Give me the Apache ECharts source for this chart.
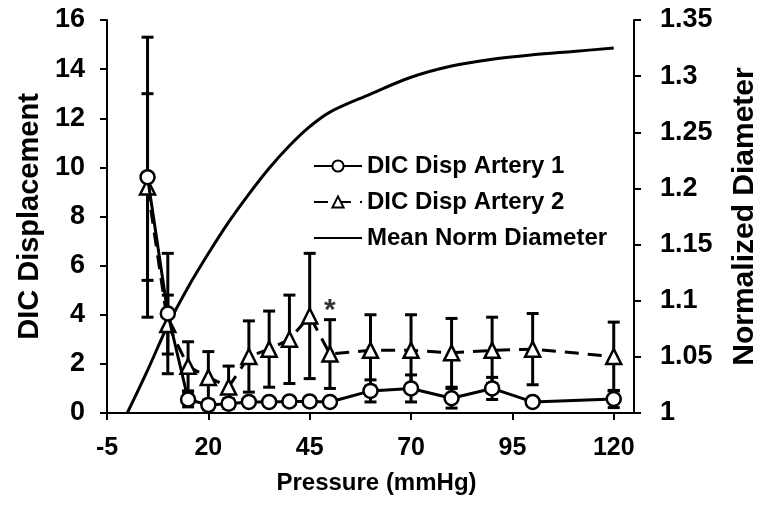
<!DOCTYPE html>
<html>
<head>
<meta charset="utf-8">
<script src="https://cdn.jsdelivr.net/npm/echarts@6/dist/echarts.min.js"></script>
<style>
html,body{margin:0;padding:0;background:#fff;}
#chart{width:758px;height:506px;}
</style>
</head>
<body>
<div id="chart"></div>
<script>
// ---- data ----
const pressure = [5, 10, 15, 20, 25, 30, 35, 40, 45, 50, 60, 70, 80, 90, 100, 120];
const artery1 = [9.6, 4.05, 0.55, 0.33, 0.38, 0.45, 0.45, 0.47, 0.47, 0.45, 0.9, 1.0, 0.6, 1.0, 0.45, 0.57];
const artery1Err = [5.7, 2.45, 0.3, 0.2, 0.2, 0.15, 0.15, 0.15, 0.15, 0.15, 0.45, 0.55, 0.4, 0.45, 0.1, 0.35];
const artery2 = [9.2, 3.6, 1.9, 1.45, 1.06, 2.3, 2.6, 3.0, 3.95, 2.4, 2.55, 2.55, 2.45, 2.55, 2.6, 2.3];
const artery2Err = [3.8, 1.2, 1.0, 1.05, 0.85, 1.45, 1.55, 1.8, 2.55, 1.4, 1.45, 1.45, 1.4, 1.35, 1.45, 1.4];
const diamPressure = [0, 5, 10, 15, 20, 25, 30, 35, 40, 45, 50, 60, 70, 80, 90, 100, 110, 120];
const meanNormDiameter = [1.0, 1.038, 1.078, 1.112, 1.142, 1.17, 1.195, 1.218, 1.238, 1.255, 1.268, 1.284, 1.299, 1.309, 1.315, 1.319, 1.322, 1.325];
const sigPressure = [50];
const sigLevel = [4.15];
const xTicks = [-5, 20, 45, 70, 95, 120];
const leftTicks = [0, 2, 4, 6, 8, 10, 12, 14, 16];
const rightTicks = [1, 1.05, 1.1, 1.15, 1.2, 1.25, 1.3, 1.35];

// ---- build ----
const FONT = "'Liberation Sans', Arial, sans-serif";
const BLACK = '#000';
const s1 = pressure.map((p, i) => [p, artery1[i]]);
const s2 = pressure.map((p, i) => [p, artery2[i]]);
const e1 = pressure.map((p, i) => [p, artery1[i] - artery1Err[i], artery1[i] + artery1Err[i]]);
const e2 = pressure.map((p, i) => [p, artery2[i] - artery2Err[i], artery2[i] + artery2Err[i]]);
const dd = diamPressure.map((p, i) => [p, meanNormDiameter[i]]);
const sig = sigPressure.map((p, i) => [p, sigLevel[i]]);

function errRender(params, api) {
  const x = api.value(0), lo = api.value(1), hi = api.value(2);
  const a = api.coord([x, lo]), b = api.coord([x, hi]);
  const w = 6;
  const st = {stroke: BLACK, lineWidth: 3};
  return {
    type: 'group',
    children: [
      {type: 'line', shape: {x1: a[0], y1: a[1], x2: b[0], y2: b[1]}, style: st},
      {type: 'line', shape: {x1: a[0] - w, y1: a[1], x2: a[0] + w, y2: a[1]}, style: st},
      {type: 'line', shape: {x1: b[0] - w, y1: b[1], x2: b[0] + w, y2: b[1]}, style: st}
    ]
  };
}

const axisLine = {show: true, onZero: false, lineStyle: {color: BLACK, width: 2}};
const axisTick = {show: true, inside: false, length: 7, lineStyle: {color: BLACK, width: 2}};

const chart = echarts.init(document.getElementById('chart'), null, {renderer: 'canvas'});
chart.setOption({
  animation: false,
  backgroundColor: '#fff',
  textStyle: {fontFamily: FONT},
  grid: {left: 107, right: 124, top: 20, bottom: 93, containLabel: false, outerBoundsMode: 'none'},
  legend: {
    orient: 'vertical',
    left: 308,
    top: 148,
    itemWidth: 48,
    itemHeight: 14,
    itemGap: 10,
    data: [
      {name: 'DIC Disp Artery 1'},
      {name: 'DIC Disp Artery 2'},
      {name: 'Mean Norm Diameter', itemStyle: {color: 'rgba(0,0,0,0)', borderWidth: 0, opacity: 0}}
    ],
    textStyle: {fontFamily: FONT, fontWeight: 'bold', fontSize: 24, color: BLACK, lineHeight: 26}
  },
  xAxis: {
    type: 'value', min: -5, max: 125, interval: 25,
    name: 'Pressure (mmHg)', nameLocation: 'middle', nameGap: 58,
    nameTextStyle: {fontFamily: FONT, fontWeight: 'bold', fontSize: 24, color: BLACK, padding: [0, 0, 0, 12]},
    axisLine: axisLine, axisTick: axisTick, splitLine: {show: false},
    axisLabel: {
      fontFamily: FONT, fontWeight: 'bold', fontSize: 25, color: BLACK, margin: 23,
      showMaxLabel: false,
      formatter: v => (xTicks.indexOf(v) >= 0 ? String(v) : '')
    }
  },
  yAxis: [
    {
      type: 'value', min: 0, max: 16, interval: 2, position: 'left',
      name: 'DIC Displacement', nameLocation: 'middle', nameGap: 60, nameRotate: 90,
      nameTextStyle: {fontFamily: FONT, fontWeight: 'bold', fontSize: 29, color: BLACK},
      axisLine: axisLine, axisTick: axisTick, splitLine: {show: false},
      axisLabel: {
        fontFamily: FONT, fontWeight: 'bold', fontSize: 27, color: BLACK, margin: 22,
        formatter: v => (leftTicks.indexOf(v) >= 0 ? String(v) : '')
      }
    },
    {
      type: 'value', min: 1, max: 1.35, interval: 0.05, position: 'right',
      name: 'Normalized Diameter', nameLocation: 'middle', nameGap: 96, nameRotate: 90,
      nameTextStyle: {fontFamily: FONT, fontWeight: 'bold', fontSize: 30, color: BLACK},
      axisLine: axisLine, axisTick: axisTick, splitLine: {show: false},
      axisLabel: {
        fontFamily: FONT, fontWeight: 'bold', fontSize: 27, color: BLACK, margin: 26,
        formatter: v => {
          const r = Math.round(v * 100) / 100;
          return String(r);
        }
      }
    }
  ],
  series: [
    {
      name: 'Mean Norm Diameter', type: 'line', yAxisIndex: 1, data: dd,
      smooth: 0.35, showSymbol: false, symbol: 'none',
      lineStyle: {color: BLACK, width: 3}, itemStyle: {color: BLACK}, z: 2
    },
    {
      name: 'err2', type: 'custom', yAxisIndex: 0, data: e2, renderItem: errRender,
      encode: {x: 0, y: [1, 2]}, z: 3, silent: true
    },
    {
      name: 'err1', type: 'custom', yAxisIndex: 0, data: e1, renderItem: errRender,
      encode: {x: 0, y: [1, 2]}, z: 3, silent: true
    },
    {
      name: 'DIC Disp Artery 2', type: 'line', yAxisIndex: 0, data: s2,
      symbol: 'triangle', symbolSize: 15,
      lineStyle: {color: BLACK, width: 3, type: [14, 9]},
      itemStyle: {color: '#fff', borderColor: BLACK, borderWidth: 2.5}, z: 4
    },
    {
      name: 'DIC Disp Artery 1', type: 'line', yAxisIndex: 0, data: s1,
      symbol: 'circle', symbolSize: 14,
      lineStyle: {color: BLACK, width: 3},
      itemStyle: {color: '#fff', borderColor: BLACK, borderWidth: 2.5}, z: 5
    },
    {
      name: 'sig', type: 'scatter', yAxisIndex: 0, data: sig, symbolSize: 1,
      itemStyle: {color: 'rgba(0,0,0,0)'},
      label: {show: true, position: 'inside', formatter: '*', fontFamily: FONT, fontWeight: 'bold', fontSize: 30, color: BLACK},
      z: 6, silent: true
    }
  ]
});
</script>
</body>
</html>
